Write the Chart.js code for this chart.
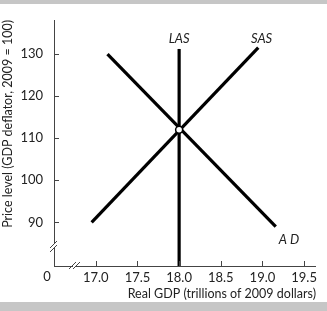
<!DOCTYPE html>
<html><head><meta charset="utf-8">
<script src="https://cdn.jsdelivr.net/npm/chart.js@4"></script>
<style>html,body{margin:0;padding:0;background:#fff;} canvas{display:block;}</style>
</head><body>
<canvas id="c" width="327" height="311"></canvas>
<script>
// ---- data ----
const xTicks = [17.0, 17.5, 18.0, 18.5, 19.0, 19.5];
const yTicks = [90, 100, 110, 120, 130];
const adX = [17.14, 19.16];
const adY = [130, 89];
const sasX = [16.95, 18.95];
const sasY = [90, 131.5];
const lasX = [18.0, 18.0];
const lasY = [79.64, 131.2];
const eqX = [18.0];
const eqY = [112];
const curveNames = ['LAS', 'SAS', 'AD'];
const curveNameX = [18.0, 18.99, 19.32];
const curveNameY = [133.6, 133.6, 85.8];
const xTitle = 'Real GDP (trillions of 2009 dollars)';
const yTitle = 'Price level (GDP deflator, 2009 = 100)';

const pts = (xs, ys) => xs.map((x, i) => ({x: x, y: ys[i]}));
const FONT = 'Lato, "Open Sans", sans-serif';
const TXT = '#222';

const deco = {
  id: 'deco',
  beforeDraw(chart) {
    const ctx = chart.ctx;
    ctx.save();
    ctx.fillStyle = '#fff';
    ctx.fillRect(0, 0, chart.width, chart.height);
    ctx.fillStyle = '#c6c6c6';
    ctx.fillRect(0, 0, chart.width, 4);
    ctx.fillRect(0, 302, chart.width, chart.height - 302);
    ctx.restore();
  },
  afterDraw(chart) {
    const ctx = chart.ctx;
    const xs = chart.scales.x, ys = chart.scales.y;
    const a = chart.chartArea;
    ctx.save();
    // inward tick marks
    ctx.strokeStyle = '#444';
    ctx.lineWidth = 1;
    ctx.beginPath();
    yTicks.forEach(v => {
      const y = Math.round(ys.getPixelForValue(v)) + 0.5;
      ctx.moveTo(a.left, y); ctx.lineTo(a.left + 5, y);
    });
    xTicks.forEach(v => {
      const x = Math.round(xs.getPixelForValue(v)) + 0.5;
      ctx.moveTo(x, a.bottom); ctx.lineTo(x, a.bottom - 5);
    });
    ctx.stroke();
    // axis breaks
    const yb = 246, xb = 75;
    ctx.fillStyle = '#fff';
    ctx.fillRect(a.left - 1, yb - 2, 3, 3);
    ctx.fillRect(xb - 2, a.bottom - 1, 3, 3);
    ctx.beginPath();
    ctx.moveTo(a.left - 4, yb + 2); ctx.lineTo(a.left + 3, yb - 5);
    ctx.moveTo(a.left - 4, yb + 6); ctx.lineTo(a.left + 3, yb - 1);
    ctx.moveTo(xb - 6, a.bottom + 3); ctx.lineTo(xb + 1, a.bottom - 4);
    ctx.moveTo(xb - 2, a.bottom + 3); ctx.lineTo(xb + 5, a.bottom - 4);
    ctx.stroke();
    // origin zero
    ctx.fillStyle = TXT;
    ctx.font = '13px ' + FONT;
    ctx.textAlign = 'center';
    ctx.textBaseline = 'middle';
    ctx.fillText('0', 47, 277);
    // curve names
    ctx.font = 'italic 13px ' + FONT;
    curveNames.forEach((n, i) => {
      const t = n === 'AD' ? 'A D' : n;
      ctx.fillText(t, xs.getPixelForValue(curveNameX[i]), ys.getPixelForValue(curveNameY[i]));
    });
    // axis titles
    ctx.font = '12.5px ' + FONT;
    ctx.textAlign = 'right';
    ctx.fillText(xTitle, 316, 294);
    ctx.translate(8, 20);
    ctx.rotate(-Math.PI / 2);
    ctx.textAlign = 'right';
    ctx.fillText(yTitle, 0, 0);
    ctx.restore();
  }
};

const lineDs = (label, data) => ({
  label, data, showLine: true, borderColor: '#000', borderWidth: 3.2,
  pointRadius: 0, pointHoverRadius: 0, fill: false, clip: false, borderCapStyle: 'butt'
});

new Chart(document.getElementById('c'), {
  type: 'scatter',
  data: {
    datasets: [
      { label: 'eq', data: pts(eqX, eqY), pointRadius: 3.5, pointBackgroundColor: '#fff',
        pointBorderColor: '#000', pointBorderWidth: 1.5, showLine: false, clip: false },
      lineDs('LAS', pts(lasX, lasY)),
      lineDs('SAS', pts(sasX, sasY)),
      lineDs('AD', pts(adX, adY))
    ]
  },
  options: {
    responsive: false,
    animation: false,
    events: [],
    layout: { padding: { top: 20, right: 12, left: 0, bottom: 0 } },
    plugins: { legend: { display: false }, tooltip: { enabled: false } },
    scales: {
      x: {
        type: 'linear', min: 16.498, max: 19.631,
        afterBuildTicks: s => { s.ticks = xTicks.map(v => ({value: v})); },
        afterFit: s => { s.height = 45; },
        grid: { display: false, drawTicks: false },
        border: { display: true, color: '#444', width: 1 },
        ticks: { color: TXT, padding: 4, maxRotation: 0, autoSkip: false,
                 font: { family: FONT, size: 13 }, callback: v => Number(v).toFixed(1) }
      },
      y: {
        type: 'linear', min: 79.64, max: 138.08,
        afterBuildTicks: s => { s.ticks = yTicks.map(v => ({value: v})); },
        afterFit: s => { s.width = 54; },
        grid: { display: false, drawTicks: false },
        border: { display: true, color: '#444', width: 1 },
        ticks: { color: TXT, padding: 11, autoSkip: false,
                 font: { family: FONT, size: 13 }, callback: v => String(v) }
      }
    }
  },
  plugins: [deco]
});
</script>
</body></html>
